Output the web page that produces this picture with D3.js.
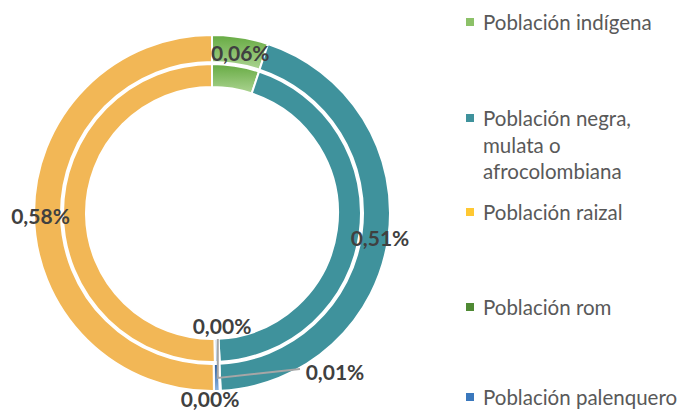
<!DOCTYPE html>
<html><head><meta charset="utf-8">
<script src="https://cdn.jsdelivr.net/npm/d3@7"></script>
<style>html,body{margin:0;padding:0;background:#fff;} svg{display:block;}</style>
</head><body>
<svg id="c" width="686" height="411"></svg>
<script>
// Data (percent values)
const categories = ["Población indígena", "Población negra, mulata o afrocolombiana", "Población rom", "Población palenquero", "Población raizal"];
const outerValues = [0.059, 0.511, 0.001, 0.006, 0.581];
const innerValues = [0.059, 0.509, 0.002, 0.004, 0.581];
const outerLabels = ["0,06%", "0,51%", "0,00%", "0,01%", "0,58%"];
const innerLabels = ["", "", "", "0,00%", ""];
const legendOrder = ["Población indígena", "Población negra, mulata o afrocolombiana", "Población raizal", "Población rom", "Población palenquero"];
const legendLines = {
  "Población indígena": ["Población indígena"],
  "Población negra, mulata o afrocolombiana": ["Población negra,", "mulata o", "afrocolombiana"],
  "Población raizal": ["Población raizal"],
  "Población rom": ["Población rom"],
  "Población palenquero": ["Población palenquero"]
};

const svg = d3.select("#c");
const cx = 212, cy = 213;
const defs = svg.append("defs");
function grad(id, c1, c2) {
  const g = defs.append("linearGradient").attr("id", id).attr("x1", 0).attr("y1", 0).attr("x2", 0).attr("y2", 1);
  g.append("stop").attr("offset", "0%").attr("stop-color", c1);
  g.append("stop").attr("offset", "100%").attr("stop-color", c2);
}
grad("gGreen", "#66aa42", "#acd492");
grad("gBlue", "#2a5c9c", "#8fb7e3");
grad("gBlueLight", "#9fc4e8", "#bcd6ef");

const fillOuter = {
  "Población indígena": "url(#gGreen)",
  "Población negra, mulata o afrocolombiana": "#3f929c",
  "Población rom": "#548235",
  "Población palenquero": "url(#gBlue)",
  "Población raizal": "#f2b756"
};
const fillInner = Object.assign({}, fillOuter, {"Población palenquero": "url(#gBlueLight)"});
const legendColor = {
  "Población indígena": "#8cc168",
  "Población negra, mulata o afrocolombiana": "#3f929c",
  "Población raizal": "#ffc832",
  "Población rom": "#4f8a34",
  "Población palenquero": "#3a78bd"
};

const pie = d3.pie().sort(null).value(d => d.v);
const outerArc = d3.arc().innerRadius(151).outerRadius(178);
const innerArc = d3.arc().innerRadius(126).outerRadius(149);

const outerData = pie(categories.map((c, i) => ({c, v: outerValues[i], l: outerLabels[i]})));
const innerData = pie(categories.map((c, i) => ({c, v: innerValues[i], l: innerLabels[i]})));

const g = svg.append("g").attr("transform", `translate(${cx},${cy})`);
g.selectAll("path.o").data(outerData).join("path").attr("class", "o")
  .attr("d", outerArc).attr("fill", d => fillOuter[d.data.c])
  .attr("stroke", "#fff").attr("stroke-width", 2);
g.selectAll("path.i").data(innerData).join("path").attr("class", "i")
  .attr("d", innerArc).attr("fill", d => fillInner[d.data.c])
  .attr("stroke", "#fff").attr("stroke-width", 2);

// leader lines
const pal = outerData[3];
const anchorX = Math.sin(pal.endAngle) * 165 + 4;
g.append("path")
  .attr("d", `M${anchorX},${126} V${165} L${88},${156}`)
  .attr("fill", "none").attr("stroke", "#a6a6a6").attr("stroke-width", 2);

// labels
const labFont = "Lato, 'Open Sans', sans-serif";
function label(x, y, t) {
  return g.append("text").attr("x", x).attr("y", y).attr("text-anchor", "middle")
    .attr("dominant-baseline", "central")
    .attr("font-family", labFont).attr("font-weight", "bold").attr("font-size", 21)
    .attr("fill", "#404040").text(t);
}
[0, 1, 4].forEach(i => {
  const c = outerArc.centroid(outerData[i]);
  label(c[0] + (i === 1 ? 5 : (i === 4 ? -7 : 2)), c[1] + 2, outerData[i].data.l);
});
// small slices
label(10, 112, innerData[3].data.l);
label(123, 158, outerData[3].data.l);
label(-2, 185, outerData[2].data.l);

// legend
const lg = svg.append("g");
const ly = [22, 118, 212, 307, 397];
legendOrder.forEach((k, i) => {
  lg.append("rect").attr("x", 466).attr("y", ly[i] - 4).attr("width", 8).attr("height", 8)
    .attr("fill", legendColor[k]);
  legendLines[k].forEach((t, j) => {
    lg.append("text").attr("x", 483).attr("y", ly[i] + j * 26.5).attr("dominant-baseline", "central")
      .attr("font-family", labFont).attr("font-size", 20.5).attr("fill", "#595959").text(t);
  });
});
</script>
</body></html>
